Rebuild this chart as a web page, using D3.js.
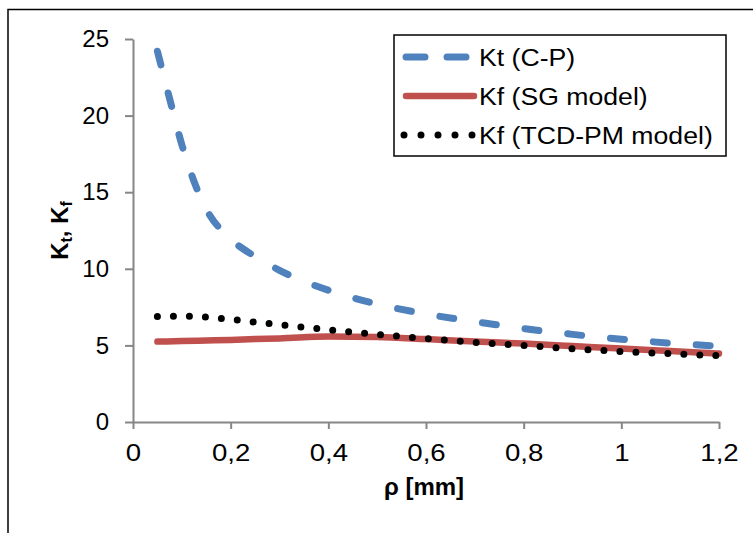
<!DOCTYPE html>
<html>
<head>
<meta charset="utf-8">
<script src="https://cdn.jsdelivr.net/npm/d3@7"></script>
<style>
  body { margin: 0; background: #fff; }
  text { font-family: "Liberation Sans", Arial, sans-serif; }
</style>
</head>
<body>
<script>
const svgWidth = 753;
const svgHeight = 533;
const margin = { left: 133, top: 39, right: 34, bottom: 111 };
const width = svgWidth - margin.left - margin.right;
const height = svgHeight - margin.top - margin.bottom;

// data
const rhoKt = [0.05, 0.075, 0.1, 0.125, 0.15, 0.2, 0.25, 0.3, 0.4, 0.5, 0.6, 0.7, 0.8, 0.9, 1.0, 1.1, 1.2];
const ktCP = [24.2, 21.1, 18.1, 15.7, 13.9, 11.95, 10.8, 9.9, 8.6, 7.7, 7.05, 6.55, 6.1, 5.72, 5.4, 5.15, 4.95];

const rhoKf = [0.05, 0.1, 0.15, 0.2, 0.25, 0.3, 0.4, 0.5, 0.6, 0.7, 0.8, 0.9, 1.0, 1.1, 1.2];
const kfSG = [5.25, 5.28, 5.32, 5.36, 5.41, 5.45, 5.58, 5.55, 5.41, 5.25, 5.12, 4.96, 4.79, 4.63, 4.47];
const kfTCD = [6.88, 6.9, 6.85, 6.7, 6.52, 6.35, 6.02, 5.72, 5.45, 5.2, 5.0, 4.78, 4.6, 4.46, 4.33];

const xTicks = [0, 0.2, 0.4, 0.6, 0.8, 1, 1.2];
const yTicks = [0, 5, 10, 15, 20, 25];

const series = [
  { name: 'Kt (C-P)', x: rhoKt, y: ktCP, color: '#4F81BD', dash: '14 29', width: 7 },
  { name: 'Kf (SG model)', x: rhoKf, y: kfSG, color: '#C0504D', dash: null, width: 6.5 },
  { name: 'Kf (TCD-PM model)', x: rhoKf, y: kfTCD, color: '#000', dash: '0 16', width: 7 }
];

const root = d3.select('body').append('svg')
  .attr('width', svgWidth)
  .attr('height', svgHeight);

// chart frame (cut by the picture on the right and bottom)
root.append('rect')
  .attr('x', 8).attr('y', 9.5)
  .attr('width', 900).attr('height', 700)
  .attr('fill', 'none')
  .attr('stroke', '#000')
  .attr('stroke-width', 1.5);

const svg = root.append('g')
  .attr('transform', `translate(${margin.left}, ${margin.top})`);

const xScale = d3.scaleLinear().domain([0, 1.2]).range([0, width]);
const yScale = d3.scaleLinear().domain([0, 25]).range([height, 0]);

const fmt = d => String(d).replace('.', ',');

const xAxis = d3.axisBottom(xScale).tickValues(xTicks).tickFormat(fmt)
  .tickSizeInner(7).tickSizeOuter(0).tickPadding(15);
const yAxis = d3.axisLeft(yScale).tickValues(yTicks).tickFormat(fmt)
  .tickSizeInner(8).tickSizeOuter(0).tickPadding(16);

const gx = svg.append('g')
  .attr('transform', `translate(0, ${height})`)
  .call(xAxis);
const gy = svg.append('g').call(yAxis);

[gx, gy].forEach((g) => {
  g.select('.domain').attr('stroke', '#868686').attr('stroke-width', 2);
  g.selectAll('.tick line').attr('stroke', '#868686').attr('stroke-width', 2);
  g.selectAll('.tick text')
    .attr('fill', '#000')
    .style('font-size', '24px')
    .style('font-family', '"Liberation Sans", Arial, sans-serif');
});
// x labels are a bit wider in the picture
gx.selectAll('.tick text').attr('transform', 'scale(1.15,1)');

// lines
series.forEach((s) => {
  const pts = s.x.map((x, i) => [x, s.y[i]]);
  const line = d3.line()
    .x(d => xScale(d[0]))
    .y(d => yScale(d[1]))
    .curve(d3.curveMonotoneX);
  const p = svg.append('path')
    .datum(pts)
    .attr('d', line)
    .attr('fill', 'none')
    .attr('stroke', s.color)
    .attr('stroke-width', s.width)
    .attr('stroke-linecap', 'round');
  if (s.dash) p.attr('stroke-dasharray', s.dash);
});

// axis titles
svg.append('text')
  .attr('x', width / 2 - 2)
  .attr('y', height + 73)
  .attr('text-anchor', 'middle')
  .style('font-size', '24px')
  .style('font-weight', 'bold')
  .text('ρ [mm]');

const yTitle = root.append('text')
  .attr('transform', `translate(68, ${margin.top + height / 2}) rotate(-90)`)
  .attr('text-anchor', 'middle')
  .style('font-size', '24px')
  .style('font-weight', 'bold');
yTitle.append('tspan').text('K');
yTitle.append('tspan').attr('font-size', '16px').attr('dy', 4).text('t');
yTitle.append('tspan').attr('dy', -4).text(', K');
yTitle.append('tspan').attr('font-size', '16px').attr('dy', 4).text('f');

// legend
const legend = root.append('g');
legend.append('rect')
  .attr('x', 394).attr('y', 35)
  .attr('width', 332).attr('height', 121)
  .attr('fill', '#fff')
  .attr('stroke', '#000')
  .attr('stroke-width', 1.5);

series.forEach((s, i) => {
  const yy = 57 + i * 39;
  const l = legend.append('line')
    .attr('x1', s.dash === '0 16' ? 404 : 406)
    .attr('x2', 474)
    .attr('y1', yy).attr('y2', yy)
    .attr('stroke', s.color)
    .attr('stroke-width', s.width)
    .attr('stroke-linecap', 'round');
  if (s.dash === '0 16') l.attr('stroke-dasharray', '0 17');
  else if (s.dash) l.attr('stroke-dasharray', '19 22');
  legend.append('text')
    .attr('transform', `translate(479, ${yy + 8.5}) scale(1.11,1)`)
    .style('font-size', '24px')
    .text(s.name);
});
</script>
</body>
</html>
